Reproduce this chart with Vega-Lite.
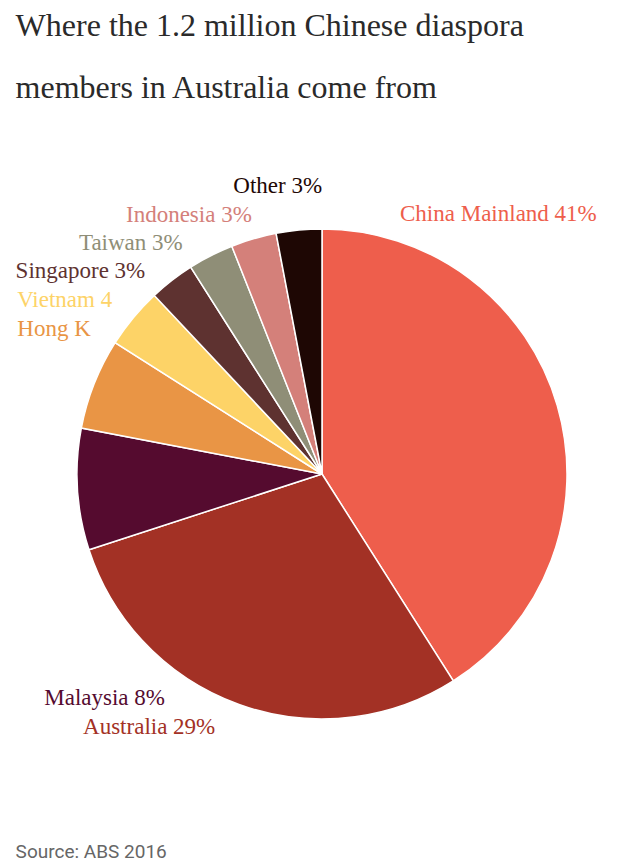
{
  "$schema": "https://vega.github.io/schema/vega-lite/v6.json",
  "background": "white",
  "padding": {"left": 15, "top": 10, "right": 15, "bottom": 0},
  "title": {
    "text": ["Where the 1.2 million Chinese diaspora", "members in Australia come from"],
    "anchor": "start",
    "font": "Liberation Serif",
    "fontSize": 32,
    "fontWeight": "normal",
    "color": "#2a2a2a",
    "lineHeight": 62,
    "offset": 25
  },
  "vconcat": [
    {
      "width": 608,
      "height": 688,
      "title": {
        "text": "Source: ABS 2016",
        "orient": "bottom",
        "anchor": "start",
        "font": "Roboto",
        "fontSize": 19,
        "fontWeight": "normal",
        "color": "#666666",
        "offset": 25
      },
      "data": {
        "values": [
          {"country": "China Mainland", "value": 41, "label": "China Mainland 41%"},
          {"country": "Australia", "value": 29, "label": "Australia 29%"},
          {"country": "Malaysia", "value": 8, "label": "Malaysia 8%"},
          {"country": "Hong Kong", "value": 6, "label": "Hong Kong 6%"},
          {"country": "Vietnam", "value": 4, "label": "Vietnam 4%"},
          {"country": "Singapore", "value": 3, "label": "Singapore 3%"},
          {"country": "Taiwan", "value": 3, "label": "Taiwan 3%"},
          {"country": "Indonesia", "value": 3, "label": "Indonesia 3%"},
          {"country": "Other", "value": 3, "label": "Other 3%"}
        ]
      },
      "transform": [
        {"stack": "value", "groupby": [], "sort": [{"field": "value", "order": "descending"}], "as": ["v0", "v1"]}
      ],
      "encoding": {
        "theta": {"field": "v0", "type": "quantitative", "scale": {"domain": [0, 100]}},
        "color": {
          "field": "country",
          "type": "nominal",
          "legend": null,
          "scale": {
            "domain": ["China Mainland", "Australia", "Malaysia", "Hong Kong", "Vietnam", "Singapore", "Taiwan", "Indonesia", "Other"],
            "range": ["#ee5e4c", "#a33125", "#550b2f", "#e99545", "#fdd367", "#5e3230", "#8f8e77", "#d4807a", "#1e0704"]
          }
        }
      },
      "layer": [
        {
          "mark": {"type": "arc", "outerRadius": 245, "stroke": "white", "strokeWidth": 1.5},
          "encoding": {"theta2": {"field": "v1"}}
        },
        {
          "transform": [{"filter": "datum.country === 'China Mainland'"}],
          "mark": {"type": "text", "radius": 245, "font": "Liberation Serif", "fontSize": 23, "align": "left", "baseline": "middle", "dx": 78, "dy": -15},
          "encoding": {"text": {"field": "label"}}
        },
        {
          "transform": [{"filter": "datum.country === 'Australia'"}],
          "mark": {"type": "text", "radius": 245, "font": "Liberation Serif", "fontSize": 23, "align": "right", "baseline": "middle", "dx": -238, "dy": 46},
          "encoding": {"text": {"field": "label"}}
        },
        {
          "transform": [{"filter": "datum.country === 'Malaysia'"}],
          "mark": {"type": "text", "radius": 245, "font": "Liberation Serif", "fontSize": 23, "align": "right", "baseline": "middle", "dx": 76, "dy": 148},
          "encoding": {"text": {"field": "label"}}
        },
        {
          "transform": [{"filter": "datum.country === 'Hong Kong'"}],
          "mark": {"type": "text", "radius": 245, "font": "Liberation Serif", "fontSize": 23, "align": "left", "baseline": "middle", "dx": -64, "dy": -99, "limit": 80, "ellipsis": " "},
          "encoding": {"text": {"field": "label"}}
        },
        {
          "transform": [{"filter": "datum.country === 'Vietnam'"}],
          "mark": {"type": "text", "radius": 245, "font": "Liberation Serif", "fontSize": 23, "align": "left", "baseline": "middle", "dx": -98, "dy": -43, "limit": 103, "ellipsis": " "},
          "encoding": {"text": {"field": "label"}}
        },
        {
          "transform": [{"filter": "datum.country === 'Singapore'"}],
          "mark": {"type": "text", "radius": 245, "font": "Liberation Serif", "fontSize": 23, "align": "right", "baseline": "middle", "dx": -9, "dy": -24},
          "encoding": {"text": {"field": "label"}}
        },
        {
          "transform": [{"filter": "datum.country === 'Taiwan'"}],
          "mark": {"type": "text", "radius": 245, "font": "Liberation Serif", "fontSize": 23, "align": "right", "baseline": "middle", "dx": -8, "dy": -24},
          "encoding": {"text": {"field": "label"}}
        },
        {
          "transform": [{"filter": "datum.country === 'Indonesia'"}],
          "mark": {"type": "text", "radius": 245, "font": "Liberation Serif", "fontSize": 23, "align": "right", "baseline": "middle", "dx": 20, "dy": -31},
          "encoding": {"text": {"field": "label"}}
        },
        {
          "transform": [{"filter": "datum.country === 'Other'"}],
          "mark": {"type": "text", "radius": 245, "font": "Liberation Serif", "fontSize": 23, "align": "right", "baseline": "middle", "dx": 46, "dy": -47},
          "encoding": {"text": {"field": "label"}}
        }
      ]
    }
  ],
  "config": {"view": {"stroke": null}}
}
